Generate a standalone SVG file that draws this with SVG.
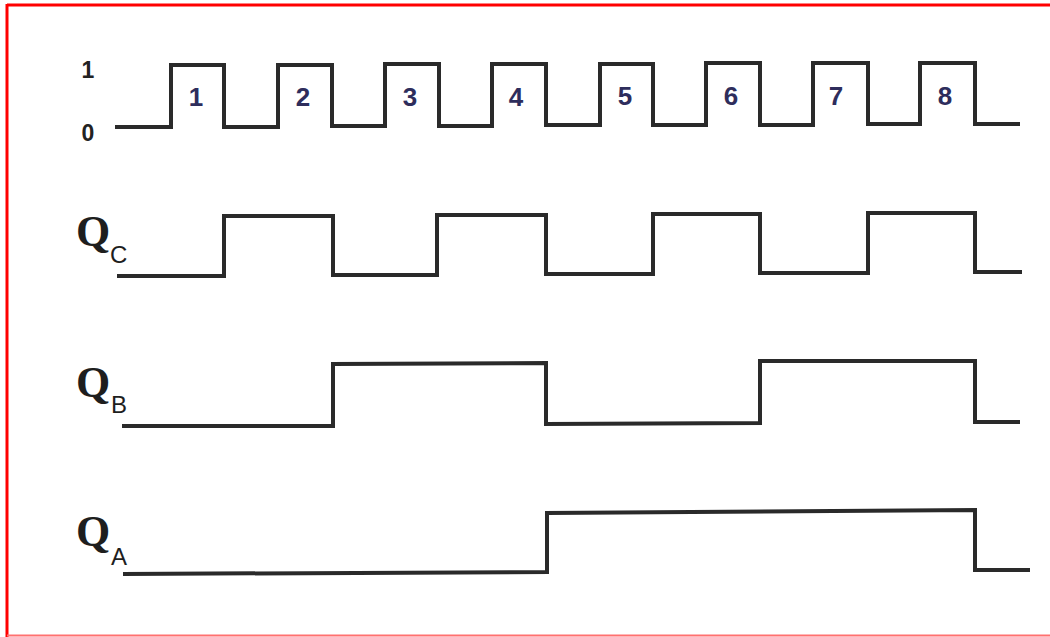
<svg xmlns="http://www.w3.org/2000/svg" width="1050" height="637" viewBox="0 0 1050 637">
<style>
.w{fill:none;stroke:#2a2a2a;stroke-width:4;stroke-linejoin:miter;stroke-linecap:butt}
.n{font-family:"Liberation Sans",Arial,sans-serif;font-weight:bold;font-size:26px;fill:#2e2d5c;text-anchor:middle}
.lv{font-family:"Liberation Sans",Arial,sans-serif;font-weight:bold;font-size:23px;fill:#222;text-anchor:middle}
.q{font-family:"Liberation Serif","Times New Roman",serif;font-weight:bold;font-size:44px;fill:#1e1e1e}
.s{font-family:"Liberation Sans",Arial,sans-serif;font-size:24px;fill:#1e1e1e}
</style>
<rect width="1050" height="637" fill="#ffffff"/>
<g id="frame">
<line x1="7" y1="5" x2="1050" y2="5" stroke="#ff0000" stroke-width="3"/>
<line x1="7" y1="4" x2="7" y2="637" stroke="#ff0000" stroke-width="3"/>
<line x1="7" y1="635.5" x2="1050" y2="635.5" stroke="#ff7070" stroke-width="2"/>
</g>
<g id="clock">
<text class="lv" x="88" y="78">1</text>
<text class="lv" x="88" y="141">0</text>
<polyline class="w" points="115,127 171,127 171,65 224,65 224,127 278,127 278,65 332,65 332,126 385,126 385,64 439,64 439,126 492,126 492,64 546,64 546,125 600,125 600,64 653,64 653,125 706,125 706,63 760,63 760,125 813,125 813,63 868,63 868,124 920,124 920,63 975,63 975,124 1020,124"/>
<text class="n" x="196" y="106">1</text>
<text class="n" x="303" y="106">2</text>
<text class="n" x="410" y="106">3</text>
<text class="n" x="516" y="106">4</text>
<text class="n" x="625" y="105">5</text>
<text class="n" x="731" y="105">6</text>
<text class="n" x="836" y="105">7</text>
<text class="n" x="945" y="105">8</text>
</g>
<g id="QC">
<text class="q" x="76" y="246">Q</text>
<text class="s" x="110" y="263">C</text>
<polyline class="w" points="117,276 224,276 224,216 333,216 333,275 437,275 437,215 546,215 546,274 653,274 653,214 760,214 760,273 868,273 868,213 975,213 975,272 1022,272"/>
</g>
<g id="QB">
<text class="q" x="76" y="397">Q</text>
<text class="s" x="111" y="413">B</text>
<polyline class="w" points="122,426 333,426 333,364 546,363 546,424 760,423 760,361 975,361 975,422 1020,422"/>
</g>
<g id="QA">
<text class="q" x="76" y="546">Q</text>
<text class="s" x="111" y="565">A</text>
<polyline class="w" points="123,574 547,572 547,513 975,510 975,570 1030,570"/>
</g>
</svg>
